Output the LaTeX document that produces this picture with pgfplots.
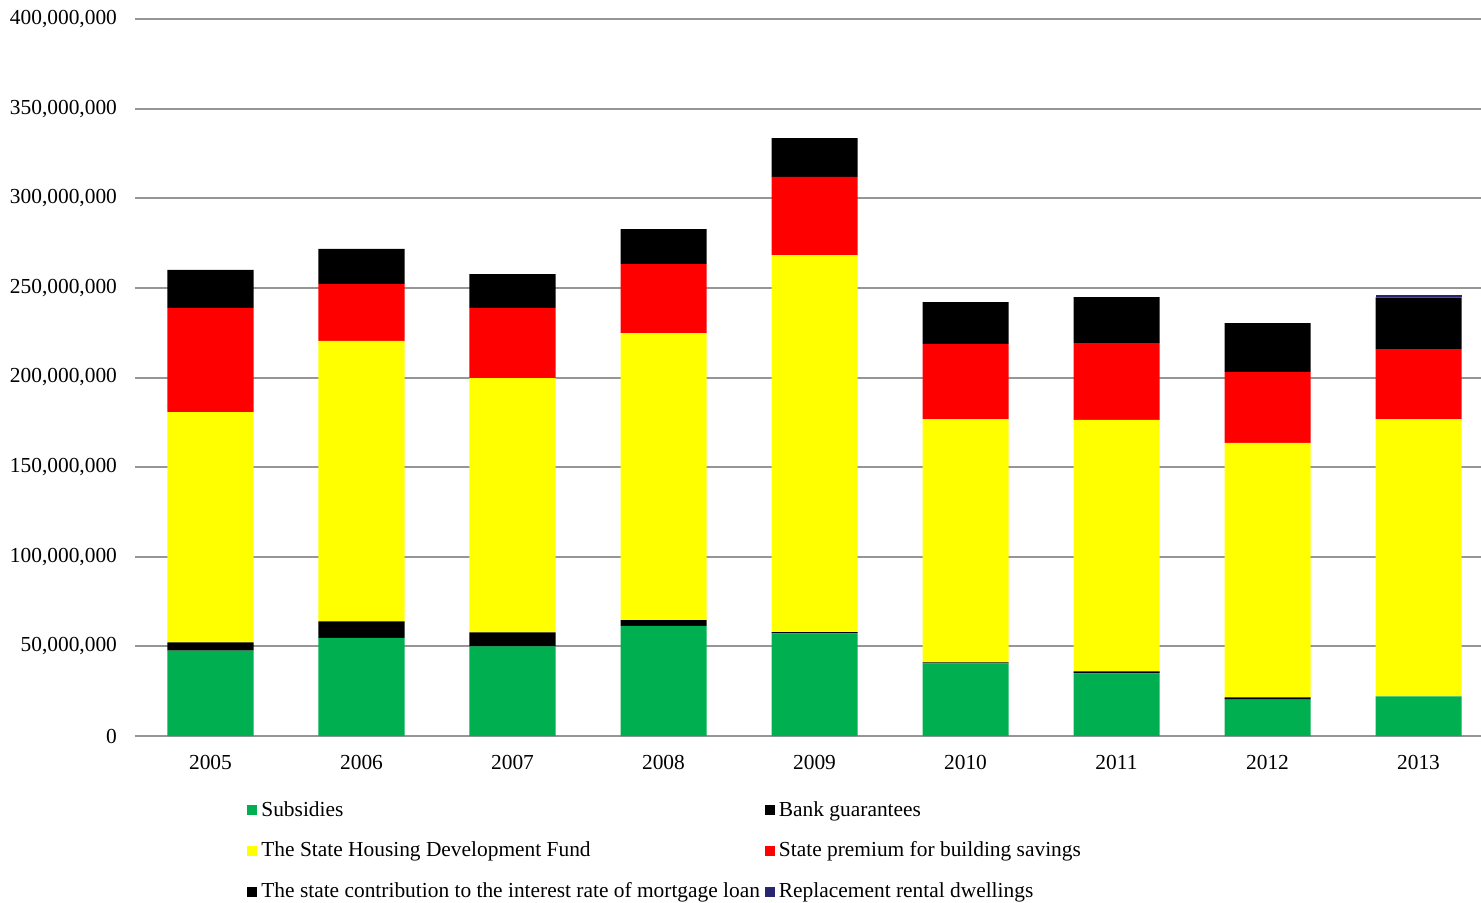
\documentclass[border=0pt]{standalone}
\usepackage{fontspec}
\setmainfont{Liberation Serif}
\usepackage{pgfplots}
\pgfplotsset{compat=1.18}
\usepackage{pgfplotstable}
\definecolor{cgreen}{HTML}{00B050}
\definecolor{cyellow}{HTML}{FFFF00}
\definecolor{cred}{HTML}{FF0000}
\definecolor{cblack}{HTML}{000000}
\definecolor{cnavy}{HTML}{262673}
\definecolor{cgrid}{HTML}{969696}
% values in millions
\pgfplotstableread{
x sub bank fund prem contr repl
0 47.6 4.7 128.4 58.1 21.2 0
1 54.7 9.3 156.4 31.8 19.5 0
2 50.0 7.8 141.9 39.1 18.9 0
3 61.4 3.3 160.1 38.5 19.5 0
4 57.3 0.6 210.4 43.6 21.7 0
5 40.5 0.6 135.7 41.9 23.4 0
6 35.0 1.0 140.3 42.9 25.7 0
7 20.3 1.2 142.0 39.6 27.3 0
8 22.1 0.0 154.7 39.1 28.8 1.3
}\data
\begin{document}
\begin{tikzpicture}
\begin{axis}[
  scale only axis,
  width=673pt, height=358.5pt,
  ybar stacked, bar width=43pt,
  xmin=-0.5, xmax=8.414,
  ymin=0, ymax=400,
  xtick=data,
  xticklabels={2005,2006,2007,2008,2009,2010,2011,2012,2013},
  ytick={0,50,...,400},
  yticklabels={0,{50,000,000},{100,000,000},{150,000,000},{200,000,000},{250,000,000},{300,000,000},{350,000,000},{400,000,000}},
  major tick length=0pt,
  axis lines*=left,
  y axis line style={draw=none},
  x axis line style={cgrid, line width=1pt, -},
  ymajorgrids,
  grid style={cgrid, line width=1pt},
  tick label style={font=\fontsize{10.7}{12}\selectfont},
  yticklabel style={xshift=-5.5pt},
  xticklabel style={yshift=-6pt},
  every axis plot/.append style={draw=none},
  legend columns=2,
  legend cell align=left,
  legend style={draw=none, fill=none, font=\fontsize{10.7}{12}\selectfont,
    at={(0.0832,-0.085)}, anchor=north west,
    row sep=7.3pt, inner sep=0pt,
    /tikz/every even column/.append style={column sep=0.5pt}},
  legend image code/.code={\fill[#1] (0pt,-2.5pt) rectangle (5pt,2.5pt);},
]
\addplot[fill=cgreen] table[x=x,y=sub]{\data};
\addlegendentry{Subsidies}
\addplot[fill=cblack] table[x=x,y=bank]{\data};
\addlegendentry{Bank guarantees}
\addplot[fill=cyellow] table[x=x,y=fund]{\data};
\addlegendentry{The State Housing Development Fund}
\addplot[fill=cred] table[x=x,y=prem]{\data};
\addlegendentry{State premium for building savings}
\addplot[fill=cblack] table[x=x,y=contr]{\data};
\addlegendentry{The state contribution to the interest rate of mortgage loan}
\addplot[fill=cnavy] table[x=x,y=repl]{\data};
\addlegendentry{Replacement rental dwellings}
\end{axis}
\pgfresetboundingbox
\path (-67.5pt,-83pt) rectangle (673pt,368pt);
\end{tikzpicture}
\end{document}
